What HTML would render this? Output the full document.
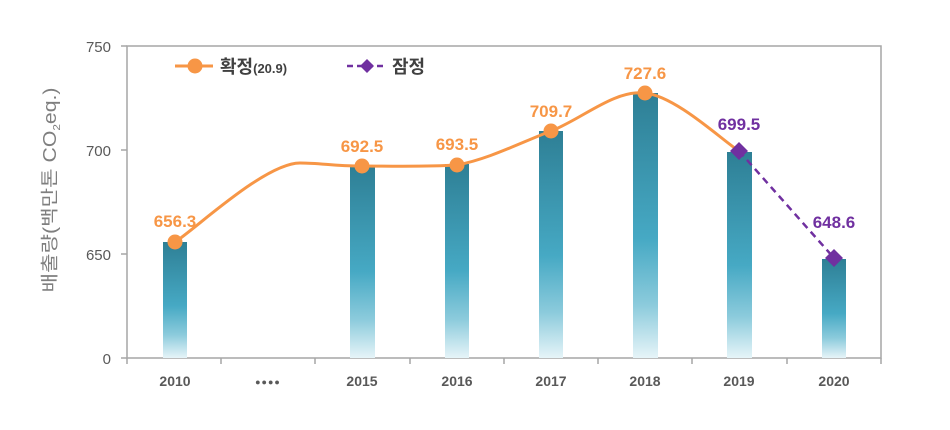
<!DOCTYPE html>
<html><head><meta charset="utf-8"><style>
html,body{margin:0;padding:0;background:#fff;}
svg{display:block;font-family:"Liberation Sans","Noto Sans CJK KR",sans-serif;}
</style></head><body>
<svg width="950" height="430" viewBox="0 0 950 430">
<defs>
<linearGradient id="g" x1="0" y1="0" x2="0" y2="1">
<stop offset="0" stop-color="#2e7f95"/>
<stop offset="0.55" stop-color="#46a9c4"/>
<stop offset="0.8" stop-color="#8ccbdc"/>
<stop offset="1" stop-color="#e6f4f8"/>
</linearGradient>
</defs>
<rect x="127" y="46" width="754" height="312" fill="none" stroke="#a6a6a6" stroke-width="1.5"/>
<g stroke="#a6a6a6" stroke-width="1.5">
<line x1="121" y1="46" x2="127" y2="46"/><line x1="121" y1="150" x2="127" y2="150"/>
<line x1="121" y1="254" x2="127" y2="254"/><line x1="121" y1="358" x2="127" y2="358"/>
<line x1="127" y1="358" x2="127" y2="364"/><line x1="221" y1="358" x2="221" y2="364"/>
<line x1="315" y1="358" x2="315" y2="364"/><line x1="410" y1="358" x2="410" y2="364"/>
<line x1="504" y1="358" x2="504" y2="364"/><line x1="598" y1="358" x2="598" y2="364"/>
<line x1="692" y1="358" x2="692" y2="364"/><line x1="787" y1="358" x2="787" y2="364"/>
<line x1="881" y1="358" x2="881" y2="364"/>
</g>
<g fill="#595959" font-size="15" text-anchor="end">
<text x="111" y="52">750</text><text x="111" y="156">700</text>
<text x="111" y="260">650</text><text x="111" y="364">0</text>
</g>
<text transform="translate(56,190) rotate(-90)" text-anchor="middle" fill="#7f7f7f" font-size="18" textLength="205" lengthAdjust="spacingAndGlyphs">배출량(백만톤 CO<tspan font-size="10" dy="4">2</tspan><tspan dy="-4">eq.)</tspan></text>
<g fill="#595959" font-size="14" font-weight="bold" text-anchor="middle">
<text x="175" y="386">2010</text><text x="268" y="385" font-size="9" letter-spacing="1">●●●●</text>
<text x="362" y="386">2015</text><text x="457" y="386">2016</text>
<text x="551" y="386">2017</text><text x="645" y="386">2018</text>
<text x="739" y="386">2019</text><text x="834" y="386">2020</text>
</g>
<g fill="url(#g)">
<rect x="163" y="242" width="24" height="116"/>
<rect x="350" y="166" width="25" height="192"/>
<rect x="445" y="164" width="24" height="194"/>
<rect x="539" y="131" width="24" height="227"/>
<rect x="633" y="93" width="25" height="265"/>
<rect x="727" y="152" width="25" height="206"/>
<rect x="822" y="259" width="24" height="99"/>
</g>
<path d="M175,242 C195.8,228.8 265,163 300,163 C321,163 335.8,166.3 362,166 C388.2,166 425,167 457,165 C488.5,159.2 519.7,143 551,131 C582.3,119 613.7,89.7 645,93 C676.3,96.3 723.3,141.3 739,151" fill="none" stroke="#f79646" stroke-width="3"/>
<line x1="739" y1="151" x2="834" y2="258" stroke="#7030a0" stroke-width="2.5" stroke-dasharray="7,5"/>
<g fill="#f79646">
<circle cx="175" cy="242" r="7.5"/><circle cx="362" cy="166" r="7.5"/>
<circle cx="457" cy="165" r="7.5"/><circle cx="551" cy="131" r="7.5"/>
<circle cx="645" cy="93" r="7.5"/>
</g>
<g fill="#7030a0">
<polygon points="739,142 748,151 739,160 730,151"/>
<polygon points="834,249 843,258 834,267 825,258"/>
</g>
<g fill="#f79646" font-size="17" font-weight="bold" text-anchor="middle">
<text x="175" y="227">656.3</text><text x="362" y="152">692.5</text>
<text x="457" y="150">693.5</text><text x="551" y="117">709.7</text>
<text x="645" y="79">727.6</text>
</g>
<g fill="#7030a0" font-size="17" font-weight="bold" text-anchor="middle">
<text x="739" y="130">699.5</text><text x="834" y="228">648.6</text>
</g>
<line x1="175" y1="66" x2="213" y2="66" stroke="#f79646" stroke-width="3"/>
<circle cx="195" cy="66" r="7.5" fill="#f79646"/>
<text x="220" y="73" fill="#404040" font-size="18" font-weight="bold">확정<tspan font-size="13">(20.9)</tspan></text>
<line x1="347" y1="66" x2="384" y2="66" stroke="#7030a0" stroke-width="2.5" stroke-dasharray="6,4"/>
<polygon points="367,59 374,66 367,73 360,66" fill="#7030a0"/>
<text x="392" y="73" fill="#404040" font-size="18" font-weight="bold">잠정</text>
</svg>
</body></html>
